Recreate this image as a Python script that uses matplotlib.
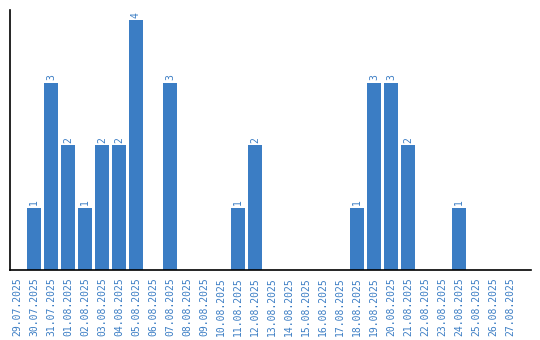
import matplotlib
matplotlib.use("Agg")
import matplotlib.pyplot as plt

dates = ["29.07.2025", "30.07.2025", "31.07.2025", "01.08.2025", "02.08.2025",
         "03.08.2025", "04.08.2025", "05.08.2025", "06.08.2025", "07.08.2025",
         "08.08.2025", "09.08.2025", "10.08.2025", "11.08.2025", "12.08.2025",
         "13.08.2025", "14.08.2025", "15.08.2025", "16.08.2025", "17.08.2025",
         "18.08.2025", "19.08.2025", "20.08.2025", "21.08.2025", "22.08.2025",
         "23.08.2025", "24.08.2025", "25.08.2025", "26.08.2025", "27.08.2025"]
values = [0, 1, 3, 2, 1, 2, 2, 4, 0, 3,
          0, 0, 0, 1, 2, 0, 0, 0, 0, 0,
          1, 3, 3, 2, 0, 0, 1, 0, 0, 0]

color = "#3b7dc4"

fig = plt.figure(figsize=(5.4, 3.4), dpi=100)
ax = fig.add_axes([10/540, 70/340, 521/540, 260/340])
x = list(range(len(dates)))
ax.bar(x, values, width=0.82, color=color)
for xi, v in zip(x, values):
    if v > 0:
        ax.text(xi, v + 0.04, str(v), rotation=90, ha="center", va="bottom",
                color=color, fontsize=7, family="DejaVu Sans Mono")
ax.set_xlim(-0.41, 30.24)
ax.set_ylim(0, 4.16)
ax.set_xticks(x)
ax.set_xticklabels(dates, rotation=90, color=color, fontsize=7, family="DejaVu Sans Mono")
ax.tick_params(axis="x", length=0, pad=5)
ax.set_yticks([])
for s in ["top", "right"]:
    ax.spines[s].set_visible(False)
ax.spines["left"].set_linewidth(1.2)
ax.spines["bottom"].set_linewidth(1.2)
fig.savefig("out.png", dpi=100)
